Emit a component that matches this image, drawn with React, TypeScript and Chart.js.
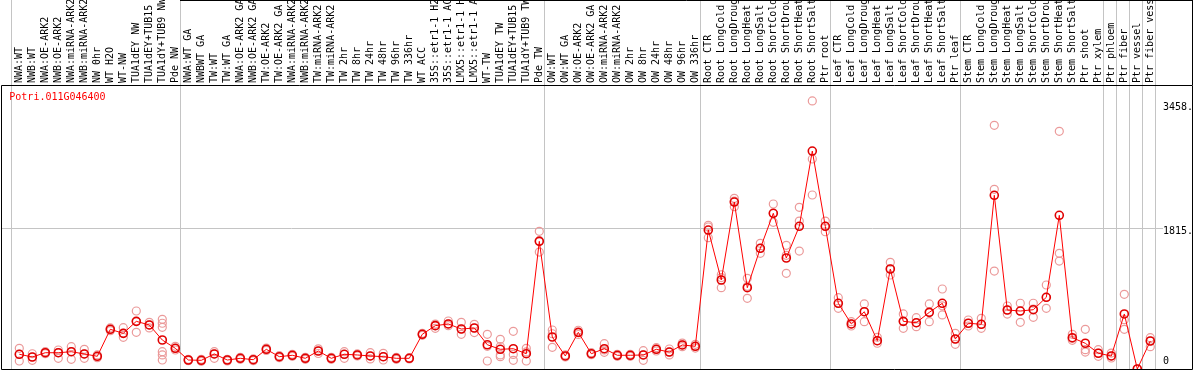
import React, { useEffect, useRef } from 'react';
import { Chart, registerables } from 'chart.js';

Chart.register(...registerables);

const GENE = 'Potri.011G046400';

const CATEGORIES = [
  'NWA:WT', 'NWB:WT', 'NWA:OE-ARK2', 'NWB:OE-ARK2', 'NWA:miRNA-ARK2', 'NWB:miRNA-ARK2',
  'NW 0hr', 'WT H2O', 'WT-NW', 'TUA1dEY NW', 'TUA1dEY+TUB15', 'TUA1dY+TUB9 NW', 'Pde NW',
  'NWA:WT GA', 'NWBWT GA', 'TW:WT', 'TW:WT GA', 'NWA:OE-ARK2 GA', 'NWB:OE-ARK2 GA',
  'TW:OE-ARK2', 'TW:OE-ARK2 GA', 'NWA:miRNA-ARK2', 'NWB:miRNA-ARK2', 'TW:miRNA-ARK2',
  'TW:miRNA-ARK2', 'TW 2hr', 'TW 8hr', 'TW 24hr', 'TW 48hr', 'TW 96hr', 'TW 336hr', 'WT ACC',
  '35S::etr1-1 H2O', '35S::etr1-1 ACC', 'LMX5::etr1-1 H2O', 'LMX5::etr1-1 ACC', 'WT-TW',
  'TUA1dEY TW', 'TUA1dEY+TUB15', 'TUA1dY+TUB9 TW', 'Pde TW',
  'OW:WT', 'OW:WT GA', 'OW:OE-ARK2', 'OW:OE-ARK2 GA', 'OW:miRNA-ARK2', 'OW:miRNA-ARK2',
  'OW 2hr', 'OW 8hr', 'OW 24hr', 'OW 48hr', 'OW 96hr', 'OW 336hr',
  'Root CTR', 'Root LongCold', 'Root LongDrought', 'Root LongHeat', 'Root LongSalt',
  'Root ShortCold', 'Root ShortDrought', 'Root ShortHeat', 'Root ShortSalt', 'Ptr root',
  'Leaf CTR', 'Leaf LongCold', 'Leaf LongDrought', 'Leaf LongHeat', 'Leaf LongSalt',
  'Leaf ShortCold', 'Leaf ShortDrought', 'Leaf ShortHeat', 'Leaf ShortSalt', 'Ptr leaf',
  'Stem CTR', 'Stem LongCold', 'Stem LongDrought', 'Stem LongHeat', 'Stem LongSalt',
  'Stem ShortCold', 'Stem ShortDrought', 'Stem ShortHeat', 'Stem ShortSalt', 'Ptr shoot',
  'Ptr xylem', 'Ptr phloem', 'Ptr fiber', 'Ptr vessel', 'Ptr fiber vessel',
];

const MEANS = [
  190, 155, 210, 210, 223, 194, 164, 512, 460, 615, 568, 374, 267,
  116, 112, 194, 116, 138, 120, 254, 159, 177, 138, 232, 138, 190, 181, 168, 159, 138, 138,
  448, 559, 581, 516, 529, 313, 254, 262, 197, 1647,
  413, 168, 473, 197, 262, 177, 177, 181, 254, 219, 310, 293,
  1793, 1148, 2154, 1049, 1557, 2009, 1432, 1841, 2812, 1841,
  848, 581, 739, 365, 1290, 615, 597, 731, 848, 387,
  590, 577, 2241, 761, 748, 765, 925, 1983, 404, 332, 203,
  168, 710, 0, 361,
];

const REPLICATES = [
  [267, 190, 103], [197, 155, 112], [223, 210, 197], [245, 210, 138], [288, 223, 125],
  [254, 194, 138], [181, 164, 146], [530, 512, 495], [533, 460, 409], [748, 615, 473],
  [602, 568, 530], [641, 590, 538, 223, 181, 116], [293, 267, 245],
  [125, 116, 108], [125, 112, 99], [224, 194, 138], [125, 116, 103], [150, 138, 125],
  [130, 120, 108], [270, 254, 240], [172, 159, 146], [190, 177, 164], [150, 138, 125],
  [260, 232, 200], [150, 138, 125], [223, 190, 138], [195, 181, 168], [210, 168, 130],
  [202, 159, 116], [150, 138, 125], [146, 138, 130], [460, 448, 435], [580, 559, 525],
  [619, 581, 559], [602, 516, 448], [576, 529, 470], [448, 292, 103], [383, 290, 181, 159],
  [486, 188, 112], [267, 220, 103], [1776, 1656, 1509],
  [503, 455, 280], [181, 168, 155], [500, 473, 445], [210, 197, 184], [327, 245, 215],
  [190, 177, 164], [190, 177, 164], [236, 181, 112], [275, 254, 232], [258, 219, 181],
  [335, 310, 288], [318, 293, 270],
  [1853, 1832, 1694], [1216, 1180, 1049], [2202, 2167, 2094], [1170, 1066, 912],
  [1622, 1557, 1493], [2129, 2009, 1892], [1596, 1466, 1234], [2086, 1909, 1522],
  [3458, 2709, 2245], [1909, 1841, 1771],
  [920, 848, 783], [610, 581, 555], [839, 739, 610], [409, 365, 332], [1376, 1290, 1213],
  [710, 615, 525], [662, 597, 546], [839, 731, 610], [1032, 815, 697], [460, 387, 318],
  [632, 590, 555], [654, 577, 525], [3144, 2318, 1264], [813, 761, 709], [848, 748, 602],
  [848, 774, 667], [1084, 925, 783], [3066, 1493, 1393], [448, 395, 370], [512, 249, 219],
  [249, 206, 164],
  [206, 168, 142], [963, 636, 512], [0], [404, 361, 288],
];

const Y_TICKS = [0, 1815, 3458];
const Y_TICK_LABELS = ['0', '1815.', '3458.'];
const GROUP_STARTS = [0, 13, 41, 53, 63, 73, 84, 85, 86, 87, 88];

const FONT = '"DejaVu Sans Mono", monospace';
const GRID_GRAY = '#c4c4c4';

export default function App() {
  const ref = useRef<HTMLCanvasElement | null>(null);

  useEffect(() => {
    const canvas = ref.current;
    if (!canvas) return;

    const decor = {
      id: 'decor',
      beforeDatasetsDraw(chart: any) {
        const { ctx, chartArea, scales } = chart;
        const xs = scales.x;
        ctx.save();
        ctx.strokeStyle = GRID_GRAY;
        ctx.lineWidth = 1;
        GROUP_STARTS.forEach((k) => {
          const px = Math.round(xs.getPixelForValue(k - 0.66)) + 0.5;
          ctx.beginPath();
          ctx.moveTo(px, 0);
          ctx.lineTo(px, chartArea.bottom);
          ctx.stroke();
        });
        ctx.restore();
      },
      afterDraw(chart: any) {
        const { ctx, chartArea } = chart;
        const W = chart.width;
        ctx.save();
        ctx.strokeStyle = '#000';
        ctx.lineWidth = 1;
        ctx.beginPath();
        ctx.rect(1.5, chartArea.top + 0.5, W - 3, chartArea.bottom - chartArea.top);
        ctx.moveTo(180, 0.5);
        ctx.lineTo(W - 1.5, 0.5);
        ctx.moveTo(W - 1.5, 0);
        ctx.lineTo(W - 1.5, chartArea.top);
        ctx.stroke();
        ctx.fillStyle = '#ff0000';
        ctx.font = '10px ' + FONT;
        ctx.textBaseline = 'middle';
        ctx.textAlign = 'left';
        ctx.fillText(GENE, chartArea.left + 8.3, chartArea.top + 12);
        ctx.restore();
      },
    };

    const replicatePoints: { x: number; y: number }[] = [];
    REPLICATES.forEach((reps, i) => reps.forEach((v) => replicatePoints.push({ x: i, y: v })));

    const chart = new Chart(canvas, {
      type: 'line',
      data: {
        datasets: [
          {
            type: 'line',
            label: GENE,
            data: MEANS.map((v, i) => ({ x: i, y: v })),
            borderColor: '#ff0000',
            borderWidth: 1,
            pointRadius: 4,
            pointStyle: 'circle',
            pointBorderColor: '#e00000',
            pointBorderWidth: 1.6,
            pointBackgroundColor: 'rgba(0,0,0,0)',
            tension: 0,
            order: 1,
          } as any,
          {
            type: 'scatter',
            label: 'replicates',
            data: replicatePoints,
            showLine: false,
            pointRadius: 4,
            pointStyle: 'circle',
            pointBorderColor: '#eb9a9a',
            pointBorderWidth: 1.2,
            pointBackgroundColor: 'rgba(0,0,0,0)',
            order: 2,
          } as any,
        ],
      },
      options: {
        animation: false,
        responsive: false,
        devicePixelRatio: 1,
        events: [],
        layout: { autoPadding: false, padding: { left: 1, right: 1, top: 0, bottom: 1 } },
        plugins: { legend: { display: false }, tooltip: { enabled: false }, title: { display: false } },
        scales: {
          x: {
            type: 'linear',
            position: 'top',
            min: -1.4077,
            max: 87.977,
            grid: { display: false, drawTicks: false },
            border: { display: false },
            afterBuildTicks: (scale: any) => {
              scale.ticks = CATEGORIES.map((_, i) => ({ value: i }));
            },
            afterFit: (scale: any) => {
              scale.height = 85;
              scale.paddingLeft = 0;
              scale.paddingRight = 0;
            },
            ticks: {
              autoSkip: false,
              minRotation: 90,
              maxRotation: 90,
              padding: 2,
              labelOffset: 12,
              color: '#000',
              font: { family: FONT, size: 10 },
              callback: (value: any) => CATEGORIES[Math.round(Number(value))],
            },
          },
          y: {
            type: 'linear',
            position: 'right',
            min: 0,
            max: 3664,
            grid: {
              drawTicks: false,
              lineWidth: 1,
              color: (c: any) => (c.tick && c.tick.value === 1815 ? GRID_GRAY : 'rgba(0,0,0,0)'),
            },
            border: { display: false },
            afterBuildTicks: (scale: any) => {
              scale.ticks = Y_TICKS.map((v) => ({ value: v }));
            },
            afterFit: (scale: any) => {
              scale.width = 30;
              scale.paddingTop = 0;
              scale.paddingBottom = 0;
            },
            ticks: {
              padding: 0,
              color: '#000',
              font: (c: any) => ({
                family: FONT,
                size: 10,
                lineHeight: c.tick && c.tick.value === 0 ? 1.46 : c.tick && c.tick.value === 1815 ? 0.68 : 1.36,
              }),
              callback: (value: any) => {
                const idx = Y_TICKS.indexOf(Number(value));
                const lab = Y_TICK_LABELS[idx];
                return Number(value) === 0 ? [lab, ''] : ['', lab];
              },
            },
          },
        },
      },
      plugins: [decor],
    });

    return () => chart.destroy();
  }, []);

  return (
    <div style={{ position: 'absolute', left: 0, top: 0, width: 1194, height: 370, background: '#fff' }}>
      <canvas ref={ref} width={1194} height={370} />
    </div>
  );
}
